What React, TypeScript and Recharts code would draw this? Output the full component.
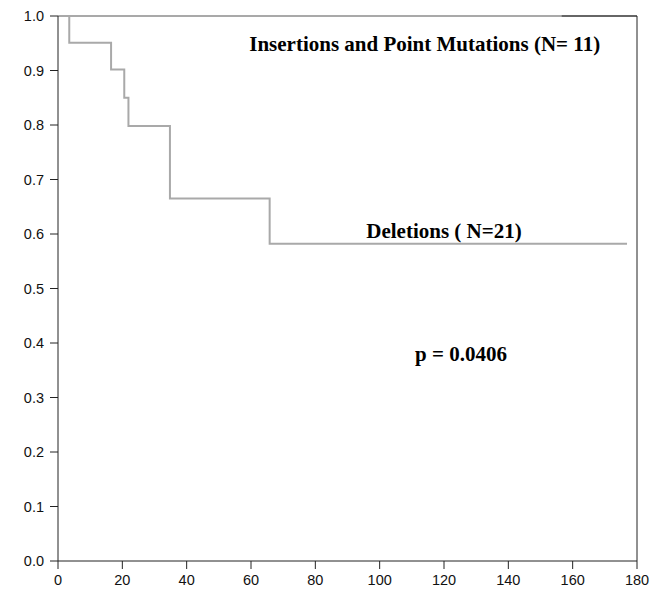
import { LineChart, Line, XAxis, YAxis, ReferenceLine, ReferenceDot } from 'recharts';

// Kaplan-Meier style survival steps (months vs. proportion)
const deletionTimes = [0, 3.5, 16.5, 20.6, 21.9, 34.8, 65.8, 176.9];
const deletionSurvival = [1, 0.951, 0.902, 0.85, 0.798, 0.665, 0.582, 0.582];
const insertionTimes = [0, 156.6];
const insertionSurvival = [1, 1];

const xTicks = [0, 20, 40, 60, 80, 100, 120, 140, 160, 180];
const yTicks = [0, 0.1, 0.2, 0.3, 0.4, 0.5, 0.6, 0.7, 0.8, 0.9, 1.0];

const deletions = deletionTimes.map((t, i) => ({ t, s: deletionSurvival[i] }));
const insertions = insertionTimes.map((t, i) => ({ t, s: insertionSurvival[i] }));

const tickFont = '"Liberation Sans", Arial, sans-serif';
const noteStyle = {
  fill: '#000',
  fontSize: 21,
  fontWeight: 'bold',
  fontFamily: '"Liberation Serif", "Times New Roman", serif',
};

function XTick({ x, y, payload }: any) {
  return (
    <text x={x} y={y + 14} textAnchor="middle" fontSize={14.5} fontFamily={tickFont} fill="#111">
      {payload.value}
    </text>
  );
}

function YTick({ x, y, payload }: any) {
  return (
    <text x={x - 4} y={y + 5} textAnchor="end" fontSize={14.5} fontFamily={tickFont} fill="#111">
      {Number(payload.value).toFixed(1)}
    </text>
  );
}

export default function App() {
  return (
    <div style={{ position: 'absolute', left: 0, top: 0, background: '#fff' }}>
      <LineChart width={661} height={590} margin={{ top: 16, right: 24, left: 0, bottom: 0 }}>
        <XAxis
          type="number"
          dataKey="t"
          domain={[0, 180]}
          ticks={xTicks}
          tick={<XTick />}
          tickSize={8}
          tickMargin={2}
          height={29}
          stroke="#222"
          allowDataOverflow
        />
        <YAxis
          type="number"
          dataKey="s"
          domain={[0, 1]}
          ticks={yTicks}
          tick={<YTick />}
          tickSize={8}
          tickMargin={2}
          width={58}
          stroke="#222"
        />
        <ReferenceLine y={1} stroke="#333" strokeWidth={1.5} />
        <ReferenceLine x={180} stroke="#222" strokeWidth={1} />
        <Line
          data={deletions}
          dataKey="s"
          type="stepAfter"
          stroke="#a9a9a9"
          strokeWidth={2}
          dot={false}
          isAnimationActive={false}
        />
        <Line
          data={insertions}
          dataKey="s"
          type="stepAfter"
          stroke="#a9a9a9"
          strokeWidth={2}
          dot={false}
          isAnimationActive={false}
        />
        <ReferenceDot
          x={114}
          y={0.949}
          r={0}
          stroke="none"
          label={{ value: 'Insertions and Point Mutations (N= 11)', position: 'center', ...noteStyle }}
        />
        <ReferenceDot
          x={120}
          y={0.607}
          r={0}
          stroke="none"
          label={{ value: 'Deletions ( N=21)', position: 'center', ...noteStyle }}
        />
        <ReferenceDot
          x={125.3}
          y={0.38}
          r={0}
          stroke="none"
          label={{ value: 'p = 0.0406', position: 'center', ...noteStyle }}
        />
      </LineChart>
    </div>
  );
}
